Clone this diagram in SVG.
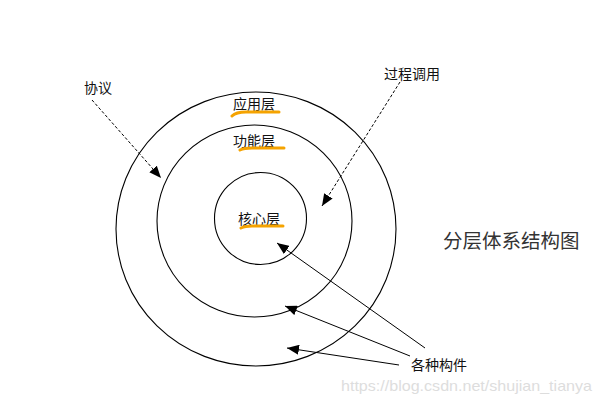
<svg xmlns="http://www.w3.org/2000/svg" width="600" height="404" viewBox="0 0 600 404">
<style>
.ring{fill:none;stroke:#000;stroke-width:1.1}
.t{font-family:"Liberation Sans","Noto Sans CJK SC",sans-serif;font-size:14px;fill:#111}
.hl{fill:none;stroke:#F5A300;stroke-width:3;stroke-linecap:round}
.c{stroke:#000;stroke-width:1;fill:none;marker-end:url(#ah)}
.d{stroke-dasharray:3,2}
</style>
<defs>
<marker id="ah" markerWidth="12" markerHeight="10" refX="12" refY="5" orient="auto" markerUnits="userSpaceOnUse">
<path d="M0,0 L12,5 L0,10 Z" fill="#000"/>
</marker>
</defs>
<rect width="600" height="404" fill="#fff"/>
<g id="outer"><ellipse class="ring" cx="256" cy="229" rx="140" ry="137"/></g>
<g id="middle"><ellipse class="ring" cx="254.5" cy="221" rx="97.5" ry="96"/></g>
<g id="inner"><ellipse class="ring" cx="260.5" cy="218.5" rx="46" ry="46"/></g>
<g id="app">
<text class="t" x="233" y="109">应用层</text>
<path class="hl" d="M232,116 Q236,112 246,112 L279,112"/>
</g>
<g id="func">
<text class="t" x="233" y="146">功能层</text>
<path class="hl" d="M240,150 Q244,148 252,148 L284,148"/>
</g>
<g id="core">
<text class="t" x="238" y="224">核心层</text>
<path class="hl" d="M241,228 Q245,226 252,226 L283,226"/>
</g>
<g id="protocol"><text class="t" x="84" y="93">协议</text></g>
<g id="rpc"><text class="t" x="384" y="79">过程调用</text></g>
<g id="title"><text class="t" x="443" y="248" style="font-size:19.5px;fill:#333">分层体系结构图</text></g>
<g id="parts"><text class="t" x="411" y="370">各种构件</text></g>
<g id="connectors">
<line class="c d" x1="92" y1="100" x2="161" y2="178"/>
<line class="c d" x1="400" y1="82" x2="322" y2="206"/>
<line class="c" x1="425" y1="348" x2="277" y2="243"/>
<line class="c" x1="410" y1="356" x2="285" y2="306"/>
<line class="c" x1="399" y1="365" x2="287" y2="348"/>
</g>
<text x="341" y="391" textLength="251" lengthAdjust="spacingAndGlyphs" style="font-family:'Liberation Sans',sans-serif;font-size:15px;fill:#ddd">https://blog.csdn.net/shujian_tianya</text>
</svg>
